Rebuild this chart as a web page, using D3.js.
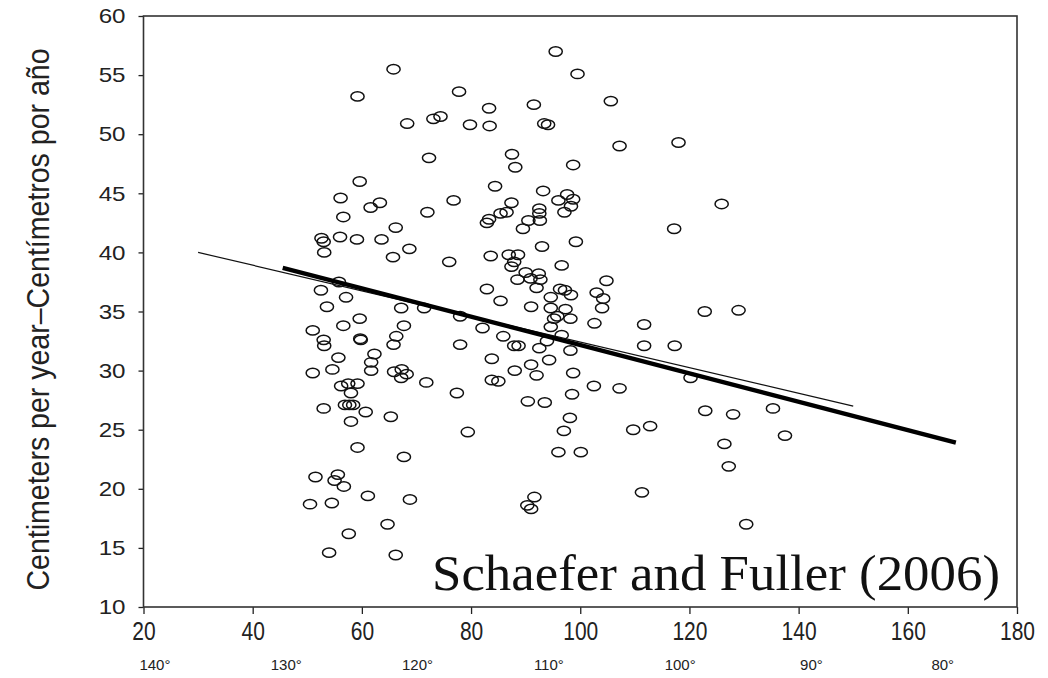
<!DOCTYPE html>
<html>
<head>
<meta charset="utf-8">
<script src="https://cdn.jsdelivr.net/npm/d3@7"></script>
<style>
  html, body { margin: 0; padding: 0; background: #fff; }
  svg { display: block; }
</style>
</head>
<body>
<svg id="chart" width="1048" height="678"></svg>
<script>
// ---- data ----
const xTicks = [20, 40, 60, 80, 100, 120, 140, 160, 180];
const yTicks = [10, 15, 20, 25, 30, 35, 40, 45, 50, 55, 60];
const lonValues = [140, 130, 120, 110, 100, 90, 80];
const lonLabels = ["140°", "130°", "120°", "110°", "100°", "90°", "80°"];

// observations: x position and growth rate (cm per year)
const obsX = [
  65.8, 59.2, 68.3, 73.1, 74.4, 72.3, 59.6, 56.1, 61.6, 63.3,
  56.6, 72.0, 66.2, 52.6, 53.0, 56.0, 59.1, 63.6, 68.7, 53.1,
  65.7, 95.5, 99.5, 77.8, 105.6, 83.3, 91.5, 79.8, 83.4, 93.4,
  94.1, 107.2, 118.0, 87.5, 88.1, 98.7, 84.4, 93.2, 76.8, 97.6,
  98.7, 96.0, 125.9, 87.4, 92.5, 98.3, 85.4, 86.5, 92.5, 97.1,
  83.3, 82.9, 90.5, 92.6, 89.5, 117.2, 93.0, 99.2, 76.0, 83.6,
  86.9, 88.6, 87.4, 87.9, 96.6, 90.0, 92.4, 88.5, 90.9, 92.7,
  92.0, 82.9, 96.3, 97.2, 98.3, 94.6, 103.0, 104.8, 104.2, 104.0,
  85.4, 91.0, 94.6, 97.3, 122.8, 71.4, 78.0, 95.8, 95.2, 98.2,
  102.6, 111.7, 82.1, 94.6, 85.9, 96.6, 93.9, 78.0, 87.9, 88.7,
  92.5, 98.2, 111.7, 117.3, 83.8, 94.3, 91.0, 88.0, 92.0, 98.7,
  71.8, 83.8, 85.0, 102.5, 107.2, 77.4, 98.5, 120.2, 90.4, 93.5,
  122.9, 98.1, 97.0, 109.7, 112.8, 79.4, 96.0, 100.1, 126.4, 111.3,
  129.0, 128.0, 135.3, 137.5, 127.2, 130.4, 55.8, 52.5, 57.1, 53.6,
  67.2, 59.6, 51.0, 56.6, 67.7, 53.0, 53.1, 59.7, 59.8, 66.3,
  65.8, 55.7, 62.3, 61.7, 51.0, 54.6, 61.7, 65.9, 67.3, 68.2,
  67.2, 56.2, 57.5, 59.2, 58.0, 56.9, 57.7, 58.4, 53.0, 60.7,
  65.3, 58.0, 59.2, 67.7, 51.5, 55.6, 55.0, 56.7, 61.1, 68.8,
  50.5, 54.5, 91.6, 90.3, 91.0, 64.7, 57.6, 54.0, 66.2
];
const obsRate = [
  55.5, 53.2, 50.9, 51.3, 51.5, 48.0, 46.0, 44.6, 43.8, 44.2,
  43.0, 43.4, 42.1, 41.2, 40.9, 41.3, 41.1, 41.1, 40.3, 40.0,
  39.6, 57.0, 55.1, 53.6, 52.8, 52.2, 52.5, 50.8, 50.7, 50.9,
  50.8, 49.0, 49.3, 48.3, 47.2, 47.4, 45.6, 45.2, 44.4, 44.9,
  44.5, 44.4, 44.1, 44.2, 43.7, 43.9, 43.3, 43.4, 43.3, 43.4,
  42.8, 42.5, 42.7, 42.7, 42.0, 42.0, 40.5, 40.9, 39.2, 39.7,
  39.8, 39.8, 38.8, 39.2, 38.9, 38.3, 38.2, 37.7, 37.8, 37.7,
  37.0, 36.9, 36.9, 36.8, 36.4, 36.2, 36.6, 37.6, 36.1, 35.3,
  35.9, 35.4, 35.3, 35.2, 35.0, 35.3, 34.6, 34.6, 34.4, 34.4,
  34.0, 33.9, 33.6, 33.7, 32.9, 33.0, 32.5, 32.2, 32.1, 32.1,
  31.9, 31.7, 32.1, 32.1, 31.0, 30.9, 30.5, 30.0, 29.6, 29.8,
  29.0, 29.2, 29.1, 28.7, 28.5, 28.1, 28.0, 29.4, 27.4, 27.3,
  26.6, 26.0, 24.9, 25.0, 25.3, 24.8, 23.1, 23.1, 23.8, 19.7,
  35.1, 26.3, 26.8, 24.5, 21.9, 17.0, 37.5, 36.8, 36.2, 35.4,
  35.3, 34.4, 33.4, 33.8, 33.8, 32.6, 32.1, 32.7, 32.6, 32.9,
  32.2, 31.1, 31.4, 30.7, 29.8, 30.1, 30.0, 29.9, 30.1, 29.7,
  29.4, 28.7, 28.9, 28.9, 28.1, 27.1, 27.1, 27.1, 26.8, 26.5,
  26.1, 25.7, 23.5, 22.7, 21.0, 21.2, 20.7, 20.2, 19.4, 19.1,
  18.7, 18.8, 19.3, 18.6, 18.3, 17.0, 16.2, 14.6, 14.4
];

// two fitted trend lines (end points)
const trendThinX = [30, 150];
const trendThinY = [40.0, 27.0];
const trendThickX = [45.5, 168.8];
const trendThickY = [38.7, 23.9];

const citation = "Schaefer and Fuller (2006)";
const yTitle = "Centimeters per year\u2013Centímetros por año";

// ---- layout ----
const svg = d3.select("#chart");
const plot = { left: 143.5, right: 1017, top: 16, bottom: 607 };

const x = d3.scaleLinear().domain([20, 180]).range([plot.left, plot.right]);
const y = d3.scaleLinear().domain([10, 60]).range([plot.bottom, plot.top]);
// longitude labels sit under the distance axis
const lon = d3.scaleLinear().domain([140, 80]).range([22.1, 166.4]);

// squeeze or widen a text run horizontally
function stretch(sel, k) {
  sel.each(function () {
    const w = this.getComputedTextLength();
    d3.select(this).attr("textLength", w * k).attr("lengthAdjust", "spacingAndGlyphs");
  });
}

// y axis
const yAxis = svg.append("g")
  .attr("transform", `translate(${plot.left},0)`)
  .call(d3.axisLeft(y).tickValues(yTicks).tickSize(5).tickPadding(13).tickSizeOuter(0));
yAxis.select(".domain").remove();
yAxis.selectAll("line").attr("stroke", "#222").attr("stroke-width", 1.3);
yAxis.selectAll("text")
  .attr("font-family", "Liberation Sans, Arial, sans-serif")
  .attr("font-size", 21)
  .attr("fill", "#222")
  .call(stretch, 1.15);

// x axis
const xAxis = svg.append("g")
  .attr("transform", `translate(0,${plot.bottom})`)
  .call(d3.axisBottom(x).tickValues(xTicks).tickSize(7).tickPadding(8).tickSizeOuter(0));
xAxis.select(".domain").remove();
xAxis.selectAll("line").attr("stroke", "#222").attr("stroke-width", 1.3);
xAxis.selectAll("text")
  .attr("font-family", "Liberation Sans, Arial, sans-serif")
  .attr("font-size", 25)
  .attr("fill", "#222")
  .call(stretch, 0.84);

// longitude row
svg.append("g").selectAll("text")
  .data(lonValues)
  .join("text")
  .attr("x", (d) => x(lon(d)))
  .attr("y", 670)
  .attr("text-anchor", "middle")
  .attr("font-family", "Liberation Sans, Arial, sans-serif")
  .attr("font-size", 15)
  .attr("fill", "#222")
  .text((d, i) => lonLabels[i]);

// frame
svg.append("rect")
  .attr("x", plot.left).attr("y", plot.top)
  .attr("width", plot.right - plot.left).attr("height", plot.bottom - plot.top)
  .attr("fill", "none").attr("stroke", "#333").attr("stroke-width", 1.6);

// y title
svg.append("text")
  .attr("transform", `translate(49,${(plot.top + plot.bottom) / 2 + 8}) rotate(-90)`)
  .attr("text-anchor", "middle")
  .attr("font-family", "Liberation Sans, Arial, sans-serif")
  .attr("font-size", 31)
  .attr("fill", "#222")
  .attr("textLength", 542)
  .attr("lengthAdjust", "spacingAndGlyphs")
  .text(yTitle);

// points
const obs = obsX.map((v, i) => ({ x: v, r: obsRate[i] }));
svg.append("g").selectAll("ellipse")
  .data(obs)
  .join("ellipse")
  .attr("cx", (d) => x(d.x))
  .attr("cy", (d) => y(d.r))
  .attr("rx", 6.6)
  .attr("ry", 4.7)
  .attr("fill", "none")
  .attr("stroke", "#111")
  .attr("stroke-width", 1.5);

// trend lines
const line = d3.line().x((d) => x(d[0])).y((d) => y(d[1]));
svg.append("path")
  .attr("d", line(trendThinX.map((v, i) => [v, trendThinY[i]])))
  .attr("fill", "none").attr("stroke", "#111").attr("stroke-width", 1.2);
svg.append("path")
  .attr("d", line(trendThickX.map((v, i) => [v, trendThickY[i]])))
  .attr("fill", "none").attr("stroke", "#000").attr("stroke-width", 4.4);

// citation
svg.append("text")
  .attr("x", 1000)
  .attr("y", 590)
  .attr("text-anchor", "end")
  .attr("font-family", "Liberation Serif, Georgia, serif")
  .attr("font-size", 50)
  .attr("fill", "#111")
  .attr("textLength", 568)
  .attr("lengthAdjust", "spacingAndGlyphs")
  .text(citation);
</script>
</body>
</html>
